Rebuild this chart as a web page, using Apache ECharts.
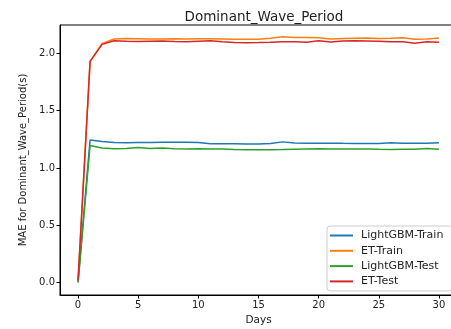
<!DOCTYPE html>
<html>
<head>
<meta charset="utf-8">
<script src="https://cdn.jsdelivr.net/npm/echarts@6/dist/echarts.min.js"></script>
<style>
  html, body { margin: 0; padding: 0; background: #fff; }
  #chart { width: 451px; height: 329px; }
</style>
</head>
<body>
<div id="chart"></div>
<script>
// days 0..30
const days = Array.from({ length: 31 }, (_, i) => i);
const xTicks = [0, 5, 10, 15, 20, 25, 30];
const yTicks = [0, 0.5, 1.0, 1.5, 2.0];

const lgbmTrain = [0.01, 1.245, 1.232, 1.222, 1.221, 1.222, 1.223, 1.224, 1.225, 1.224, 1.223,
  1.212, 1.211, 1.212, 1.210, 1.210, 1.213, 1.228, 1.218, 1.215, 1.217,
  1.217, 1.215, 1.214, 1.213, 1.214, 1.220, 1.217, 1.216, 1.215, 1.220];
const etTrain = [0.02, 1.93, 2.087, 2.125, 2.130, 2.128, 2.126, 2.125, 2.127, 2.126, 2.127,
  2.128, 2.125, 2.122, 2.123, 2.122, 2.132, 2.145, 2.138, 2.138, 2.136,
  2.125, 2.130, 2.132, 2.134, 2.130, 2.132, 2.135, 2.122, 2.124, 2.133];
const lgbmTest = [0.0, 1.197, 1.175, 1.168, 1.170, 1.180, 1.170, 1.174, 1.168, 1.166, 1.167,
  1.165, 1.165, 1.161, 1.160, 1.160, 1.160, 1.161, 1.163, 1.165, 1.167,
  1.166, 1.166, 1.166, 1.165, 1.163, 1.162, 1.163, 1.164, 1.171, 1.164];
const etTest = [0.02, 1.93, 2.078, 2.110, 2.105, 2.104, 2.106, 2.107, 2.104, 2.102, 2.106,
  2.110, 2.100, 2.094, 2.093, 2.094, 2.096, 2.102, 2.100, 2.097, 2.109,
  2.098, 2.107, 2.109, 2.108, 2.106, 2.101, 2.100, 2.088, 2.100, 2.096];

const seriesDefs = [
  { name: 'LightGBM-Train', data: lgbmTrain, color: '#1f77b4' },
  { name: 'ET-Train', data: etTrain, color: '#ff7f0e' },
  { name: 'LightGBM-Test', data: lgbmTest, color: '#2ca02c' },
  { name: 'ET-Test', data: etTest, color: '#d62728' },
];

const font = 'DejaVu Sans';
const textColor = '#222';

const chart = echarts.init(document.getElementById('chart'), null, { renderer: 'canvas' });

chart.setOption({
  animation: false,
  textStyle: { fontFamily: font },
  title: {
    text: 'Dominant_Wave_Period',
    left: 259,
    textAlign: 'center',
    top: 5,
    textStyle: { fontFamily: font, fontSize: 13.5, fontWeight: 'normal', color: textColor },
  },
  // plot frame runs past the right edge of the picture, like the reference
  grid: {
    left: 60,
    top: 25,
    width: 397,
    height: 270,
    show: true,
    borderColor: '#000',
    borderWidth: 1,
    containLabel: false,
    outerBoundsMode: 'none',
  },
  legend: {
    orient: 'vertical',
    left: 327,
    top: 226,
    padding: [3, 9, 3, 3],
    itemWidth: 23,
    itemHeight: 2,
    itemGap: 2.3,
    icon: 'rect',
    backgroundColor: '#fff',
    borderColor: '#ccc',
    borderWidth: 1,
    borderRadius: 3,
    textStyle: { fontFamily: font, fontSize: 11, color: textColor, lineHeight: 13, padding: [0, 0, 0, 3] },
    data: seriesDefs.map(s => s.name),
  },
  xAxis: {
    type: 'value',
    min: -1.5,
    max: 31.5,
    name: 'Days',
    nameLocation: 'middle',
    nameGap: 20,
    nameTextStyle: { fontFamily: font, fontSize: 10.5, color: textColor },
    axisLine: { show: true, onZero: false, lineStyle: { color: '#000', width: 1 } },
    axisTick: { show: true, inside: false, length: 3.5, customValues: xTicks, lineStyle: { color: '#000' } },
    axisLabel: { customValues: xTicks, fontFamily: font, fontSize: 10, color: textColor, margin: 5 },
    splitLine: { show: false },
  },
  yAxis: {
    type: 'value',
    min: -0.107,
    max: 2.247,
    name: 'MAE for Dominant_Wave_Period(s)',
    nameLocation: 'middle',
    nameGap: 32,
    nameTextStyle: { fontFamily: font, fontSize: 10, color: textColor },
    axisLine: { show: true, onZero: false, lineStyle: { color: '#000', width: 1 } },
    axisTick: { show: true, inside: false, length: 3.5, customValues: yTicks, lineStyle: { color: '#000' } },
    axisLabel: {
      customValues: yTicks,
      fontFamily: font,
      fontSize: 10,
      color: textColor,
      margin: 5,
      formatter: v => v.toFixed(1),
    },
    splitLine: { show: false },
  },
  series: seriesDefs.map(s => ({
    name: s.name,
    type: 'line',
    data: days.map((d, i) => [d, s.data[i]]),
    showSymbol: false,
    symbol: 'none',
    color: s.color,
    lineStyle: { color: s.color, width: 1.5 },
    emphasis: { disabled: true },
  })),
});
</script>
</body>
</html>
